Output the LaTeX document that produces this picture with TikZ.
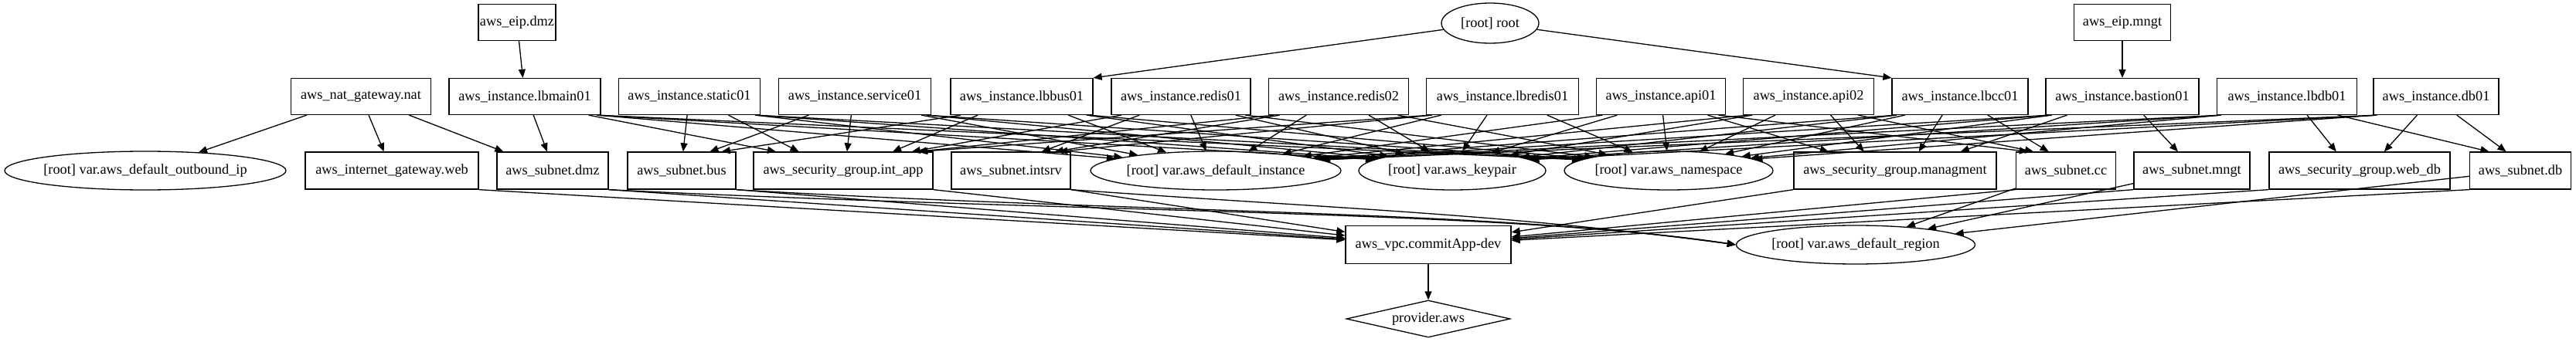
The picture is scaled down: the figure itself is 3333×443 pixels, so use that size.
\documentclass[tikz,border=0pt]{standalone}
\usepackage{fontspec}
\setmainfont{Liberation Serif}
\usetikzlibrary{shapes.geometric,arrows.meta,calc}
\tikzset{
  box/.style={draw, line width=1.3pt, rectangle, minimum height=47pt, inner sep=2pt},
  ell/.style={draw, line width=1.3pt, ellipse, minimum height=50pt, inner sep=0pt},
  dia/.style={draw, line width=1.3pt, diamond, aspect=4.4, minimum width=212pt, minimum height=48pt, inner sep=0pt},
  conn/.style={line width=1.3pt, -{Triangle[length=11pt,width=9pt]}},
}
\newcommand\mybedge[6]{%
  \pgfmathsetmacro\myox{(#3-4)*tanh((#5-#2)/300)}%
  \pgfmathsetmacro\myix{(#6-6)*0.9*tanh((#2-#5)/300)}%
  \draw[conn] ($(#1.south)+(\myox,0)$) -- ($(#4.north)+(\myix,0)$);%
}
\newcommand\myeedge[6]{%
  \pgfmathsetmacro\myox{(#3-4)*tanh((#5-#2)/300)}%
  \pgfmathsetmacro\myu{0.85*tanh((#2-#5)/500)}%
  \pgfmathsetmacro\myix{#6*\myu}%
  \pgfmathsetmacro\myiy{25*(1-sqrt(1-\myu*\myu))}%
  \draw[conn] ($(#1.south)+(\myox,0)$) -- ($(#4.north)+(\myix,\myiy)$);%
}
\begin{document}
\begin{tikzpicture}[x=1pt,y=-1pt, every node/.style={font=\fontsize{18.3pt}{22pt}\selectfont}]
\path[fill=white] (0,0) rectangle (3333,443);
\useasboundingbox (0,0) rectangle (3333,443);

% row 1
\node[box, minimum width=100pt] (eipdmz) at (669,29) {aws\_eip.dmz};
\node[ell, minimum width=126pt, minimum height=52pt] (root) at (1928,30) {\makebox[0pt]{[root] root}};
\node[box, minimum width=125pt] (eipmngt) at (2746,29) {aws\_eip.mngt};

% row 2
\node[box, minimum width=181pt] (nat) at (467,125) {aws\_nat\_gateway.nat};
\node[box, minimum width=196pt] (lbmain01) at (679,125) {aws\_instance.lbmain01};
\node[box, minimum width=183pt] (static01) at (892,125) {aws\_instance.static01};
\node[box, minimum width=197pt] (service01) at (1106,125) {aws\_instance.service01};
\node[box, minimum width=184pt] (lbbus01) at (1322,125) {aws\_instance.lbbus01};
\node[box, minimum width=180pt] (redis01) at (1528,125) {aws\_instance.redis01};
\node[box, minimum width=181pt] (redis02) at (1732,125) {aws\_instance.redis02};
\node[box, minimum width=197pt] (lbredis01) at (1944,125) {aws\_instance.lbredis01};
\node[box, minimum width=167pt] (api01) at (2149,125) {aws\_instance.api01};
\node[box, minimum width=169pt] (api02) at (2340,125) {aws\_instance.api02};
\node[box, minimum width=176pt] (lbcc01) at (2536,125) {aws\_instance.lbcc01};
\node[box, minimum width=198pt] (bastion01) at (2746,125) {aws\_instance.bastion01};
\node[box, minimum width=181pt] (lbdb01) at (2959,125) {aws\_instance.lbdb01};
\node[box, minimum width=162pt] (db01) at (3152,125) {aws\_instance.db01};

% row 3
\node[ell, minimum width=364pt] (outbound) at (188,221) {\makebox[0pt]{[root] var.aws\_default\_outbound\_ip}};
\node[box, minimum width=224pt, minimum height=48pt] (igw) at (507,221) {aws\_internet\_gateway.web};
\node[box, minimum width=144pt, minimum height=48pt] (subdmz) at (715,221) {aws\_subnet.dmz};
\node[box, minimum width=140pt, minimum height=48pt] (subbus) at (882,221) {aws\_subnet.bus};
\node[box, minimum width=232pt, minimum height=48pt] (sgint) at (1091,221) {aws\_security\_group.int\_app};
\node[box, minimum width=154pt, minimum height=48pt] (subintsrv) at (1308,221) {aws\_subnet.intsrv};
\node[ell, minimum width=324pt] (definst) at (1573,221) {\makebox[0pt]{[root] var.aws\_default\_instance}};
\node[ell, minimum width=242pt] (keypair) at (1879,221) {\makebox[0pt]{[root] var.aws\_keypair}};
\node[ell, minimum width=270pt] (namesp) at (2159,221) {\makebox[0pt]{[root] var.aws\_namespace}};
\node[box, minimum width=262pt, minimum height=48pt] (sgmng) at (2452,221) {aws\_security\_group.managment};
\node[box, minimum width=129pt, minimum height=48pt] (subcc) at (2673,221) {aws\_subnet.cc};
\node[box, minimum width=150pt, minimum height=48pt] (submngt) at (2836,221) {aws\_subnet.mngt};
\node[box, minimum width=234pt, minimum height=48pt] (sgwebdb) at (3053,221) {aws\_security\_group.web\_db};
\node[box, minimum width=131pt, minimum height=48pt] (subdb) at (3261,221) {aws\_subnet.db};

% row 4 and 5
\node[box, minimum width=214pt, minimum height=49pt] (vpc) at (1848,317) {aws\_vpc.commitApp-dev};
\node[ell, minimum width=309pt] (region) at (2401,317) {\makebox[0pt]{[root] var.aws\_default\_region}};
\node[dia] (provider) at (1848,413) {\makebox[0pt]{provider.aws}};

% top edges
\draw[conn] (eipdmz) -- (lbmain01);
\draw[conn] (root) -- (lbbus01.north east);
\draw[conn] (root) -- (lbcc01.north west);
\draw[conn] (eipmngt) -- (bastion01);

% nat gateway
\draw[conn] (nat) -- (outbound);
\draw[conn] (nat) -- (igw);
\draw[conn] (nat) -- (subdmz);

% instances
\foreach \s/\sx/\sw/\b/\bx/\bw/\g/\gx/\gw in {
  lbmain01/679/98/subdmz/715/72/sgint/1091/116,
  static01/892/91/subbus/882/70/sgint/1091/116,
  service01/1106/98/subbus/882/70/sgint/1091/116,
  lbbus01/1322/92/subbus/882/70/sgint/1091/116,
  redis01/1528/90/subintsrv/1308/77/sgint/1091/116,
  redis02/1732/90/subintsrv/1308/77/sgint/1091/116,
  lbredis01/1944/98/subintsrv/1308/77/sgint/1091/116,
  api01/2149/83/subcc/2673/64/sgmng/2452/131,
  api02/2340/84/subcc/2673/64/sgmng/2452/131,
  lbcc01/2536/88/subcc/2673/64/sgmng/2452/131,
  bastion01/2746/99/submngt/2836/75/sgmng/2452/131,
  lbdb01/2959/90/subdb/3261/65/sgwebdb/3053/117,
  db01/3152/81/subdb/3261/65/sgwebdb/3053/117}{
  \mybedge{\s}{\sx}{\sw}{\b}{\bx}{\bw}
  \mybedge{\s}{\sx}{\sw}{\g}{\gx}{\gw}
  \myeedge{\s}{\sx}{\sw}{definst}{1573}{162}
  \myeedge{\s}{\sx}{\sw}{keypair}{1879}{121}
  \myeedge{\s}{\sx}{\sw}{namesp}{2159}{135}
}

% to vpc
\draw[conn] (igw.south east) -- (vpc);
\draw[conn] (subdmz.south east) -- (vpc);
\draw[conn] (subbus.south east) -- (vpc);
\draw[conn] (sgint.south east) -- (vpc);
\draw[conn] (subintsrv.south east) -- (vpc);
\draw[conn] (sgmng.south west) -- (vpc);
\draw[conn] (subcc.south west) -- (vpc);
\draw[conn] (submngt.south west) -- (vpc);
\draw[conn] (sgwebdb.south west) -- (vpc);
\draw[conn] (subdb.south west) -- (vpc);

% to region
\draw[conn] (subdmz.south east) .. controls +(600,30) and +(-300,-45) .. (region.west);
\draw[conn] (subbus.south east) .. controls +(500,30) and +(-300,-45) .. (region.west);
\draw[conn] (subintsrv.south east) .. controls +(350,25) and +(-300,-40) .. (region.west);
\draw[conn] (subcc) -- (region);
\draw[conn] (submngt) -- (region);
\draw[conn] (subdb) -- (region);

\draw[conn] (vpc) -- (provider);
\end{tikzpicture}
\end{document}
